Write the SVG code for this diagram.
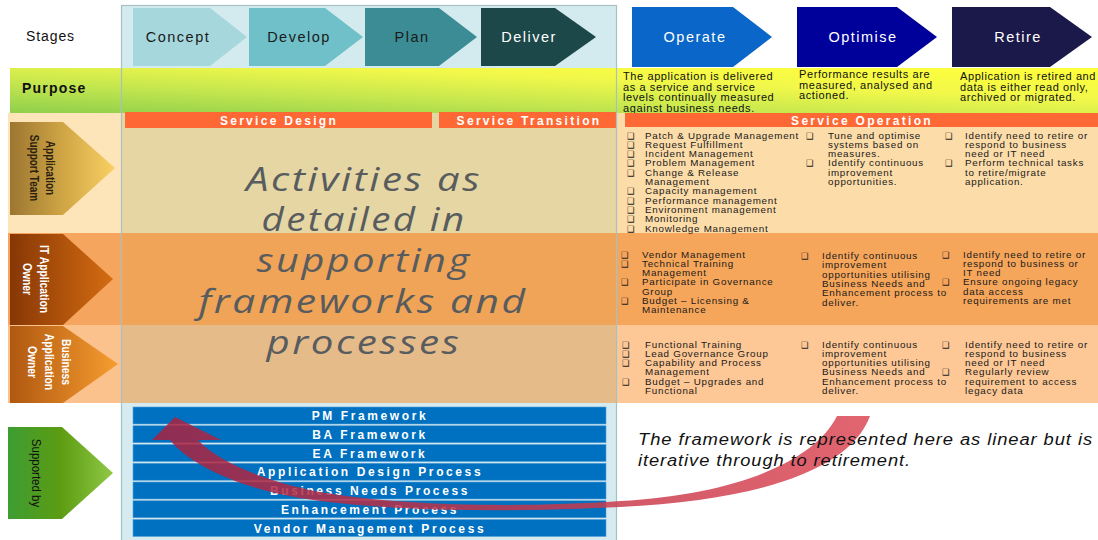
<svg xmlns="http://www.w3.org/2000/svg" width="1098" height="540" viewBox="0 0 1098 540">
  <defs>
    <linearGradient id="gPurpose" x1="0" y1="1" x2="1" y2="0">
      <stop offset="0" stop-color="#8fcf4c"/>
      <stop offset="0.35" stop-color="#c6e74e"/>
      <stop offset="0.65" stop-color="#f2f84a"/>
      <stop offset="1" stop-color="#ffff3a"/>
    </linearGradient>
    <linearGradient id="gRole1" x1="0" y1="0" x2="1" y2="0">
      <stop offset="0" stop-color="#9c7631"/>
      <stop offset="0.5" stop-color="#cfa545"/>
      <stop offset="1" stop-color="#f9d063"/>
    </linearGradient>
    <linearGradient id="gRole2" x1="0" y1="0" x2="1" y2="0">
      <stop offset="0" stop-color="#873705"/>
      <stop offset="1" stop-color="#d46c12"/>
    </linearGradient>
    <linearGradient id="gRole3" x1="0" y1="0" x2="1" y2="0">
      <stop offset="0" stop-color="#b05810"/>
      <stop offset="1" stop-color="#f69d30"/>
    </linearGradient>
    <linearGradient id="gRole4" x1="0" y1="0" x2="1" y2="0">
      <stop offset="0" stop-color="#3d9d33"/>
      <stop offset="0.5" stop-color="#5c9c12"/>
      <stop offset="1" stop-color="#90c846"/>
    </linearGradient>
    <linearGradient id="gLoop" gradientUnits="userSpaceOnUse" x1="150" y1="0" x2="870" y2="0">
      <stop offset="0" stop-color="#a8213f"/>
      <stop offset="1" stop-color="#dc4a56"/>
    </linearGradient>
    <style>
      .stg { font-family: "Liberation Sans", Arial, sans-serif; font-size: 14.5px; letter-spacing: 1.5px; text-anchor: middle; }
      .dark { fill: #1a1a1a; }
      .light { fill: #ffffff; }
      .pt { font-family: "Liberation Sans", Arial, sans-serif; font-size: 11px; letter-spacing: 0.6px; fill: #111; }
      .lbl { font-family: "Liberation Sans", Arial, sans-serif; font-size: 12.5px; font-weight: bold; text-anchor: middle; }
      .sh { font-family: "Liberation Sans", Arial, sans-serif; font-size: 12px; font-weight: bold; letter-spacing: 2.3px; fill: #fff; text-anchor: middle; }
      .big { font-family: "Open Sans", "DejaVu Sans", sans-serif; font-style: italic; font-size: 32px; letter-spacing: 2px; fill: #585c5e; text-anchor: middle; }
      .li { font-family: "Liberation Sans", Arial, sans-serif; font-size: 9.8px; letter-spacing: 0.75px; fill: #1a1a1a; }
      .bx { font-family: "DejaVu Sans", sans-serif; font-size: 8.5px; fill: #222; }
      .fw { font-family: "Liberation Sans", Arial, sans-serif; font-size: 12px; font-weight: bold; letter-spacing: 2.6px; fill: #fff; text-anchor: middle; }
      .bar { fill: #0070c0; stroke: #5aa0d8; stroke-width: 0.6; }
      .note { font-family: "Liberation Sans", Arial, sans-serif; font-style: italic; font-size: 16px; letter-spacing: 0.8px; fill: #111; }
      .hdr { fill: #fd6834; }
    </style>
  </defs>

  <rect x="0" y="0" width="1098" height="540" fill="#ffffff"/>

  <!-- stage header -->
  <g id="stages-label">
    <text x="26" y="41" style="font-family:'Liberation Sans',Arial,sans-serif;font-size:14px;letter-spacing:0.9px" fill="#111">Stages</text>
  </g>
  <rect x="121" y="5" width="495" height="63" fill="#d3ebee"/>

  <g id="stage-concept">
    <polygon points="133,8 210,8 247,37 210,66 133,66" fill="#a6d7dd"/>
    <text class="stg dark" x="178" y="42">Concept</text>
  </g>
  <g id="stage-develop">
    <polygon points="249,8 325,8 363,37 325,66 249,66" fill="#6fc0c8"/>
    <text class="stg dark" x="299" y="42">Develop</text>
  </g>
  <g id="stage-plan">
    <polygon points="365,8 439,8 477,37 439,66 365,66" fill="#3b8c94"/>
    <text class="stg dark" x="412" y="42">Plan</text>
  </g>
  <g id="stage-deliver">
    <polygon points="481,8 555,8 596,37 555,66 481,66" fill="#1d4849"/>
    <text class="stg light" x="529" y="42">Deliver</text>
  </g>
  <g id="stage-operate">
    <polygon points="632,7 733,7 772,37 733,67 632,67" fill="#0a66c8"/>
    <text class="stg light" x="695" y="42">Operate</text>
  </g>
  <g id="stage-optimise">
    <polygon points="797,7 897,7 937,37 897,67 797,67" fill="#00009a"/>
    <text class="stg light" x="863" y="42">Optimise</text>
  </g>
  <g id="stage-retire">
    <polygon points="952,7 1050,7 1092,37 1050,67 952,67" fill="#1b1949"/>
    <text class="stg light" x="1018" y="42">Retire</text>
  </g>

  <!-- purpose row -->
  <g id="purpose">
    <rect x="10" y="68" width="1088" height="45" fill="url(#gPurpose)"/>
    <text x="22" y="93" style="font-family:'Liberation Sans',Arial,sans-serif;font-size:14px;font-weight:bold;letter-spacing:1.2px" fill="#111">Purpose</text>
    <text class="pt" x="623" y="80">The application is delivered</text>
    <text class="pt" x="623" y="90.5">as a service and service</text>
    <text class="pt" x="623" y="101">levels continually measured</text>
    <text class="pt" x="623" y="111.5">against business needs.</text>
    <text class="pt" x="799" y="78">Performance results are</text>
    <text class="pt" x="799" y="88.5">measured, analysed and</text>
    <text class="pt" x="799" y="99">actioned.</text>
    <text class="pt" x="960" y="80">Application is retired and</text>
    <text class="pt" x="960" y="90.5">data is either read only,</text>
    <text class="pt" x="960" y="101">archived or migrated.</text>
  </g>

  <!-- row backgrounds -->
  <rect x="8" y="113" width="113" height="120" fill="#fde5b9"/>
  <rect x="8" y="233" width="113" height="92" fill="#f5a55d"/>
  <rect x="8" y="325" width="113" height="78" fill="#fcc28e"/>
  <rect x="121" y="113" width="496" height="120" fill="#e5d6a3"/>
  <rect x="121" y="233" width="496" height="92" fill="#f0a457"/>
  <rect x="121" y="325" width="496" height="78" fill="#e6bb8a"/>
  <rect x="617" y="113" width="481" height="120" fill="#fcdca8"/>
  <rect x="617" y="233" width="481" height="92" fill="#f6a65b"/>
  <rect x="617" y="325" width="481" height="78" fill="#fdc895"/>

  <!-- role labels -->
  <g id="role-support-team">
    <polygon points="10,122 63,122 115,168 63,215 10,215" fill="url(#gRole1)"/>
    <g transform="translate(46,168) rotate(90) scale(0.8 1)" class="lbl" fill="#2a2010">
      <text x="0" y="0">Application</text>
      <text x="0" y="16">Support Team</text>
    </g>
  </g>
  <g id="role-it-owner">
    <polygon points="10,234 63,234 113,279 63,325 10,325" fill="url(#gRole2)"/>
    <g transform="translate(40,279) rotate(90) scale(0.83 1)" class="lbl" fill="#ffffff">
      <text x="0" y="0">IT Application</text>
      <text x="0" y="17">Owner</text>
    </g>
  </g>
  <g id="role-business-owner">
    <polygon points="10,326 63,326 118,364 63,403 10,403" fill="url(#gRole3)"/>
    <g transform="translate(62,362) rotate(90) scale(0.83 1)" class="lbl" fill="#ffffff">
      <text x="0" y="0">Business</text>
      <text x="0" y="17">Application</text>
      <text x="0" y="34">Owner</text>
    </g>
  </g>
  <g id="role-supported-by">
    <polygon points="8,427 62,427 113,473 62,519 8,519" fill="url(#gRole4)"/>
    <g transform="translate(32,473) rotate(90) scale(0.92 1)" fill="#111">
      <text x="0" y="0" style="font-family:'Liberation Sans',Arial,sans-serif;font-size:12.5px;text-anchor:middle">Supported by</text>
    </g>
  </g>

  <!-- lifecycle phase headers -->
  <g id="phase-design">
    <rect class="hdr" x="125" y="112" width="307" height="16"/>
    <text class="sh" x="279" y="124.5">Service Design</text>
  </g>
  <g id="phase-transition">
    <rect class="hdr" x="439" y="112" width="178" height="16"/>
    <text class="sh" x="529" y="124.5">Service Transition</text>
  </g>
  <g id="phase-operation">
    <rect class="hdr" x="625" y="113" width="473" height="14"/>
    <text class="sh" x="862" y="124.5">Service Operation</text>
  </g>

  <!-- design / transition note -->
  <g id="activities-note">
    <text class="big" x="364" y="191" textLength="236" lengthAdjust="spacingAndGlyphs">Activities as</text>
    <text class="big" x="364" y="231" textLength="205" lengthAdjust="spacingAndGlyphs">detailed in</text>
    <text class="big" x="364" y="272" textLength="215" lengthAdjust="spacingAndGlyphs">supporting</text>
    <text class="big" x="363" y="313" textLength="329" lengthAdjust="spacingAndGlyphs">frameworks and</text>
    <text class="big" x="364" y="354" textLength="195" lengthAdjust="spacingAndGlyphs">processes</text>
  </g>

  <!-- operation tasks: application support team -->
  <g id="ops-support-team">
    <g class="bx">
      <text x="627" y="138.5">❑</text><text x="627" y="147.8">❑</text><text x="627" y="157.1">❑</text>
      <text x="627" y="166.4">❑</text><text x="627" y="175.7">❑</text><text x="627" y="194.3">❑</text>
      <text x="627" y="203.6">❑</text><text x="627" y="212.9">❑</text><text x="627" y="222.2">❑</text>
      <text x="627" y="231.5">❑</text>
      <text x="806" y="138.5">❑</text><text x="806" y="166.4">❑</text>
      <text x="945" y="138.5">❑</text><text x="945" y="166.4">❑</text>
    </g>
    <g class="li">
      <text x="645" y="138.5">Patch &amp; Upgrade Management</text>
      <text x="645" y="147.8">Request Fulfillment</text>
      <text x="645" y="157.1">Incident Management</text>
      <text x="645" y="166.4">Problem Management</text>
      <text x="645" y="175.7">Change &amp; Release</text>
      <text x="645" y="185">Management</text>
      <text x="645" y="194.3">Capacity management</text>
      <text x="645" y="203.6">Performance management</text>
      <text x="645" y="212.9">Environment management</text>
      <text x="645" y="222.2">Monitoring</text>
      <text x="645" y="231.5">Knowledge Management</text>
      <text x="828" y="138.5">Tune and optimise</text>
      <text x="828" y="147.8">systems based on</text>
      <text x="828" y="157.1">measures.</text>
      <text x="828" y="166.4">Identify continuous</text>
      <text x="828" y="175.7">improvement</text>
      <text x="828" y="185">opportunities.</text>
      <text x="965" y="138.5">Identify need to retire or</text>
      <text x="965" y="147.8">respond to business</text>
      <text x="965" y="157.1">need or IT need</text>
      <text x="965" y="166.4">Perform technical tasks</text>
      <text x="965" y="175.7">to retire/migrate</text>
      <text x="965" y="185">application.</text>
    </g>
  </g>

  <!-- operation tasks: IT application owner -->
  <g id="ops-it-owner">
    <g class="bx">
      <text x="621" y="257.5">❑</text><text x="621" y="266.8">❑</text><text x="621" y="285.4">❑</text><text x="621" y="304">❑</text>
      <text x="801" y="259">❑</text>
      <text x="942" y="257.5">❑</text><text x="942" y="285.4">❑</text>
    </g>
    <g class="li">
      <text x="642" y="257.5">Vendor Management</text>
      <text x="642" y="266.8">Technical Training</text>
      <text x="642" y="276.1">Management</text>
      <text x="642" y="285.4">Participate in Governance</text>
      <text x="642" y="294.7">Group</text>
      <text x="642" y="304">Budget – Licensing &amp;</text>
      <text x="642" y="313.3">Maintenance</text>
      <text x="822" y="259">Identify continuous</text>
      <text x="822" y="268.3">improvement</text>
      <text x="822" y="277.6">opportunities utilising</text>
      <text x="822" y="286.9">Business Needs and</text>
      <text x="822" y="296.2">Enhancement process to</text>
      <text x="822" y="305.5">deliver.</text>
      <text x="963" y="257.5">Identify need to retire or</text>
      <text x="963" y="266.8">respond to business or</text>
      <text x="963" y="276.1">IT need</text>
      <text x="963" y="285.4">Ensure ongoing legacy</text>
      <text x="963" y="294.7">data access</text>
      <text x="963" y="304">requirements are met</text>
    </g>
  </g>

  <!-- operation tasks: business application owner -->
  <g id="ops-business-owner">
    <g class="bx">
      <text x="622" y="347.5">❑</text><text x="622" y="356.8">❑</text><text x="622" y="366.1">❑</text><text x="622" y="384.7">❑</text>
      <text x="801" y="347.5">❑</text>
      <text x="942" y="347.5">❑</text><text x="942" y="375.4">❑</text>
    </g>
    <g class="li">
      <text x="645" y="347.5">Functional Training</text>
      <text x="645" y="356.8">Lead Governance Group</text>
      <text x="645" y="366.1">Capability and Process</text>
      <text x="645" y="375.4">Management</text>
      <text x="645" y="384.7">Budget – Upgrades  and</text>
      <text x="645" y="394">Functional</text>
      <text x="822" y="347.5">Identify continuous</text>
      <text x="822" y="356.8">improvement</text>
      <text x="822" y="366.1">opportunities utilising</text>
      <text x="822" y="375.4">Business Needs and</text>
      <text x="822" y="384.7">Enhancement process to</text>
      <text x="822" y="394">deliver.</text>
      <text x="965" y="347.5">Identify need to retire or</text>
      <text x="965" y="356.8">respond to business</text>
      <text x="965" y="366.1">need or IT need</text>
      <text x="965" y="375.4">Regularly review</text>
      <text x="965" y="384.7">requirement to access</text>
      <text x="965" y="394">legacy data</text>
    </g>
  </g>

  <!-- supporting frameworks -->
  <rect x="121" y="403" width="496" height="137" fill="#d5ebef"/>
  <g id="fw-pm"><rect class="bar" x="133" y="407" width="473" height="17"/><text class="fw" x="370" y="420">PM Framework</text></g>
  <g id="fw-ba"><rect class="bar" x="133" y="425.75" width="473" height="17"/><text class="fw" x="370" y="438.75">BA Framework</text></g>
  <g id="fw-ea"><rect class="bar" x="133" y="444.5" width="473" height="17"/><text class="fw" x="370" y="457.5">EA Framework</text></g>
  <g id="fw-app-design"><rect class="bar" x="133" y="463.25" width="473" height="17"/><text class="fw" x="370" y="476.25">Application Design Process</text></g>
  <g id="fw-business-needs"><rect class="bar" x="133" y="482" width="473" height="17"/><text class="fw" x="370" y="495">Business Needs Process</text></g>
  <g id="fw-enhancement"><rect class="bar" x="133" y="500.75" width="473" height="17"/><text class="fw" x="370" y="513.75">Enhancement Process</text></g>
  <g id="fw-vendor"><rect class="bar" x="133" y="519.5" width="473" height="17"/><text class="fw" x="370" y="532.5">Vendor Management Process</text></g>

  <!-- frame outline around the delivery stages column -->
  <rect x="121.5" y="5.5" width="495" height="540" fill="none" stroke="#a6c0c4" stroke-width="1.2"/>

  <!-- iteration loop arrow -->
  <g id="connectors">
    <path d="M 870 416 C 850 470 760 500 620 507 C 500 513 380 511 300 498 C 240 488 190 465 170 440 L 152 440 L 175 417 L 221 440 L 198 440 C 216 460 260 480 320 492 C 400 506 520 508 620 501 C 740 494 815 460 837 416 Z" fill="url(#gLoop)" fill-opacity="0.85"/>
  </g>

  <g id="iteration-note">
    <text class="note" x="638" y="445" textLength="455" lengthAdjust="spacingAndGlyphs">The framework is represented here as linear but is</text>
    <text class="note" x="638" y="466" textLength="273" lengthAdjust="spacingAndGlyphs">iterative through to retirement.</text>
  </g>
</svg>
